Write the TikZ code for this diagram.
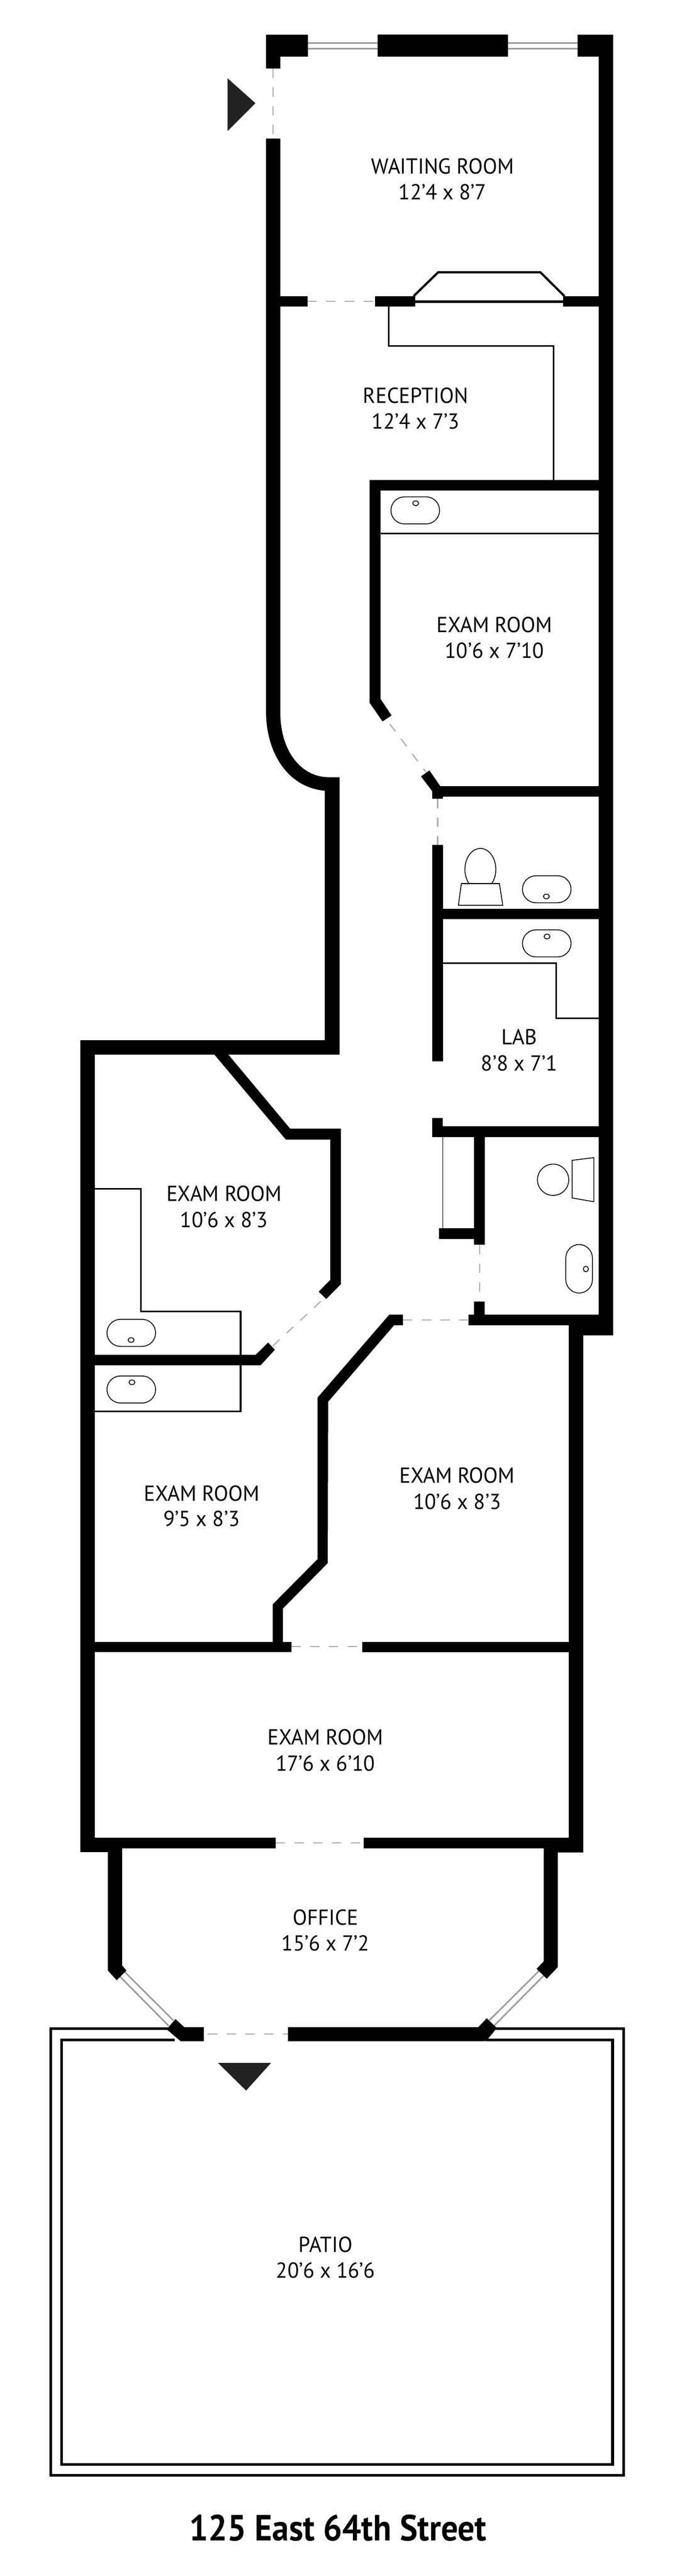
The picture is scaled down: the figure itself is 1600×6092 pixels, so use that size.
\documentclass[tikz,border=0pt]{standalone}
\usepackage{fontspec}
\setmainfont{PT Sans}
\newfontfamily\labelfont[FakeStretch=0.97]{PT Sans}
\newfontfamily\titlefont[FakeStretch=0.92]{PT Sans}
\definecolor{doorgray}{HTML}{ABABAB}
\definecolor{wingray}{HTML}{999999}
\definecolor{arrowdark}{HTML}{222222}
\tikzset{
  wall/.style={fill=black,draw=none},
  doorway/.style={draw=doorgray,line width=0.75pt,dash pattern=on 6.3pt off 6.3pt},
  pane/.style={draw=wingray,line width=1pt},
  fixture/.style={draw=black,line width=0.55pt,fill=white},
  basinshape/.style={fixture,rounded corners=0.32cm},
  counter/.style={draw=black,line width=1.05pt},
  deck/.style={draw=black,line width=1.8pt},
  entry/.style={fill=arrowdark,draw=none},
  room/.style={anchor=base,inner sep=0pt,font=\labelfont\fontsize{14.6}{17}\selectfont},
  caption/.style={anchor=base,inner sep=0pt,font=\titlefont\bfseries\fontsize{24.5}{28}\selectfont}
}
\begin{document}
\begin{tikzpicture}[x=0.01cm,y=-0.01cm]
\useasboundingbox (0,0) rectangle (1600,6092);
% patio frames
\draw[deck] (399,4797.5) -- (120,4797.5) -- (120,5854) -- (1474.5,5854) -- (1474.5,4797.5) -- (1171,4797.5);
\draw[deck] (413,4824) -- (145.6,4824) -- (145.6,5828.6) -- (1448.6,5828.6) -- (1448.6,4824) -- (1148,4824);
% windows
\draw[pane] (728,102) -- (893.5,102) (728,115) -- (893.5,115);
\draw[pane] (1201.5,102) -- (1366,102) (1201.5,115) -- (1366,115);
\draw[pane] (293.6,4662) -- (410,4778) (283.4,4674) -- (399,4791);
\draw[pane] (1275.6,4660) -- (1157,4778) (1288,4670) -- (1169,4790);
% door openings
\draw[doorway] (646,162) -- (646,328);
\draw[doorway] (727,713) -- (887,713);
\draw[doorway] (921.5,1712) -- (1007.5,1826);
\draw[doorway] (1035,1889) -- (1035,1998);
\draw[doorway] (1134,2944) -- (1134,3078);
\draw[doorway] (953,3121.5) -- (1108,3121.5);
\draw[doorway] (645,3183) -- (770,3067);
\draw[doorway] (689,3894) -- (855,3894);
\draw[doorway] (652,4358) -- (859,4358);
\draw[doorway] (491.5,4810) -- (681,4810);
% thin counters
\draw[counter] (919,725) -- (919,818) -- (1309,818) -- (1309,1135);
\draw[counter] (900,1262) -- (1416,1262);
\draw[counter] (1047,2278) -- (1315.5,2278) -- (1315.5,2408) -- (1416,2408);
\draw[counter] (224,2811.6) -- (333,2811.6) -- (333,3101) -- (569,3101) -- (569,3338) -- (224,3338);
\draw[draw=black,line width=0.5pt] (1047,2689) -- (1047,2905);
% outer and partition walls
\fill[wall] (629,82) -- (728,82) -- (728,134) -- (663,134) -- (663,162) -- (629,162) -- cycle;
\fill[wall] (893.5,82) rectangle (1201.5,134);
\fill[wall] (629,328) -- (663,328) -- (663,1685) .. controls (663,1780) and (715,1838) .. (777,1838) -- (803,1838) -- (803,2494) -- (224,2494) -- (224,4346) -- (652,4346) -- (652,4371) -- (289,4371) -- (289,4648) -- (299,4660) -- (276,4683) -- (255,4660) -- (255,4380) -- (190,4380) -- (190,2460) -- (768,2460) -- (768,1870) .. controls (680,1862) and (629,1780) .. (629,1681) -- cycle;
\fill[wall] (1366,82) -- (1450,82) -- (1450,3158) -- (1379.5,3158) -- (1379.5,4381) -- (1319,4381) -- (1319,4652) -- (1293,4679.5) -- (1269,4656) -- (1286,4638) -- (1286,4371) -- (860,4371) -- (860,4346) -- (1345,4346) -- (1345,3134) -- (1108,3134) -- (1108,3109) -- (1121,3109) -- (1121,3078) -- (1146,3078) -- (1146,3109) -- (1416,3109) -- (1416,134) -- (1366,134) -- cycle;
% waiting room / reception partition and fireplace
\fill[wall] (663,700) rectangle (727,725);
\fill[wall] (887,700) rectangle (981.5,725);
\fill[wall] (1332,700) rectangle (1416,725);
\fill[wall] (981,710) rectangle (1332,716);
\draw[draw=black,line width=1.5pt] (978,700.5) -- (1036,644) -- (1278,644) -- (1335,700.5);
% exam room (north)
\fill[wall] (874,1135) -- (1416,1135) -- (1416,1160) -- (900,1160) -- (900,1653) -- (926,1692) -- (904.5,1706) -- (874,1662) -- cycle;
\fill[wall] (995.5,1836) -- (1015.5,1822) -- (1041,1859) -- (1416,1859) -- (1416,1884) -- (1047.5,1884) -- (1047.5,1889) -- (1022,1889) -- (1022,1871) -- cycle;
% lab / wc
\fill[wall] (1022,1998) rectangle (1047.5,2510);
\fill[wall] (1047,2149) rectangle (1416,2174);
\fill[wall] (1022,2644) -- (1047,2644) -- (1047,2663.6) -- (1416,2663.6) -- (1416,2689) -- (1022,2689) -- cycle;
\fill[wall] (1121,2689) rectangle (1146,2944);
\fill[wall] (1038,2905) rectangle (1121,2930);
% exam room (west)
\fill[wall] (507,2494) -- (540,2494) -- (686,2669) -- (806,2669) -- (806,3037) -- (771.6,3072) -- (753.5,3054.6) -- (781,3027) -- (781,2695) -- (676,2695) -- cycle;
\fill[wall] (224,3204) -- (604.6,3204) -- (634,3175) -- (650,3192) -- (616,3229) -- (224,3229) -- cycle;
% exam rooms (south)
\fill[wall] (920.6,3109) -- (953,3109) -- (953,3134) -- (932,3134) -- (776,3315) -- (775,3696.6) -- (669,3804) -- (669,3883) -- (689,3883) -- (689,3907) -- (224,3907) -- (224,3883) -- (645,3883) -- (645,3794) -- (751,3687) -- (751,3305) -- cycle;
\fill[wall] (856,3883) rectangle (1345,3907);
% south wall with bay corners
\fill[wall] (394,4799) -- (415,4775) -- (436,4794) -- (482,4794) -- (482,4827) -- (427,4827) -- cycle;
\fill[wall] (681,4794) -- (1131,4794) -- (1151,4773) -- (1175,4796) -- (1151,4825) -- (1145,4827) -- (681,4827) -- cycle;
% fixtures
\newcommand{\basin}[4]{%
  \draw[basinshape] (#1,#2) rectangle ({#1+115},{#2+64});
  \draw[fixture] (#3,#4) ellipse[x radius=7,y radius=5.5];}
\basin{924.5}{1175}{983}{1190}
\basin{1235.5}{2071}{1292}{2120}
\basin{1235.5}{2199}{1293.6}{2214.7}
\basin{253}{3120}{310}{3169}
\basin{253}{3254}{312}{3269}
% vertical basin
\draw[basinshape] (1338,2943) rectangle (1401,3058);
\draw[fixture] (1385.5,3001) ellipse[x radius=6,y radius=6.5];
% toilets
\draw[fixture] (1136,2056) ellipse[x radius=36.5,y radius=49.6];
\draw[fixture] (1091,2089.5) -- (1181,2089.5) -- (1189,2141) -- (1084,2141) -- cycle;
\draw[fixture] (1308,2790) circle[radius=37];
\draw[fixture] (1353,2744) -- (1404.4,2737.6) -- (1404.4,2842) -- (1353,2833) -- cycle;
% entry arrows
\fill[entry] (538,185) -- (604,244) -- (538,310) -- cycle;
\fill[entry] (515.5,4878.5) -- (641,4878.5) -- (582,4944) -- cycle;
% labels
\node[room] (waiting) at (1046.6,411) {WAITING ROOM};
\node[room] (waitingdim) at (1046.6,472) {12’4 x 8’7};
\node[room] (reception) at (983,953) {RECEPTION};
\node[room] (receptiondim) at (983,1014) {12’4 x 7’3};
\node[room] (examn) at (1169.4,1495) {EXAM ROOM};
\node[room] (examndim) at (1169.4,1556) {10’6 x 7’10};
\node[room] (lab) at (1228,2470) {LAB};
\node[room] (labdim) at (1228,2532) {8’8 x 7’1};
\node[room] (examw) at (530,2841) {EXAM ROOM};
\node[room] (examwdim) at (530,2903) {10’6 x 8’3};
\node[room] (examsw) at (477,3550) {EXAM ROOM};
\node[room] (examswdim) at (477,3610) {9’5 x 8’3};
\node[room] (examse) at (1081,3507) {EXAM ROOM};
\node[room] (examsedim) at (1081,3569) {10’6 x 8’3};
\node[room] (examrear) at (769.4,4126) {EXAM ROOM};
\node[room] (examreardim) at (769.4,4188) {17’6 x 6’10};
\node[room] (office) at (770,4552.6) {OFFICE};
\node[room] (officedim) at (770,4614) {15’6 x 7’2};
\node[room] (patio) at (770,5325.7) {PATIO};
\node[room] (patiodim) at (770,5387) {20’6 x 16’6};
\node[caption] (title) at (799.4,6008) {125 East 64th Street};
\end{tikzpicture}
\end{document}
